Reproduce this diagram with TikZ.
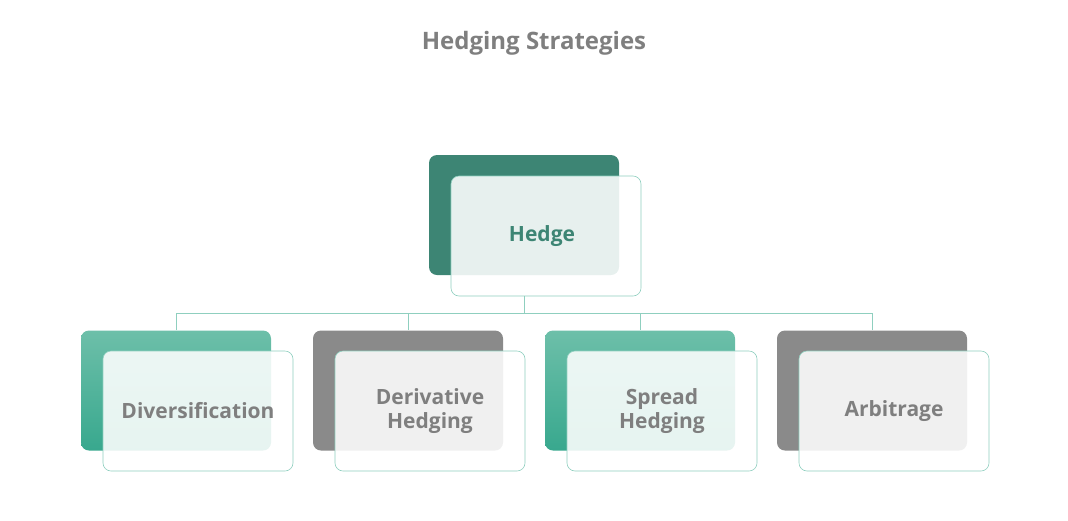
\documentclass[tikz,border=0pt]{standalone}
\usepackage{fontspec}
\setmainfont{Open Sans}
\usepackage{tikz}
\usetikzlibrary{positioning,calc}
\definecolor{tealdark}{HTML}{3D8574}
\definecolor{tealtop}{HTML}{6DBFA9}
\definecolor{tealbot}{HTML}{38A88E}
\definecolor{tealline}{HTML}{8FCFBF}
\definecolor{greyback}{HTML}{8A8A8A}
\definecolor{greytext}{HTML}{7F7F7F}

\tikzset{
  backbox/.style={rounded corners=8pt, minimum width=190pt, minimum height=120pt, inner sep=0pt},
  frontbox/.style={draw=tealline, line width=0.6pt, fill=white, fill opacity=0.88, text opacity=1,
    rounded corners=8pt, minimum width=190pt, minimum height=120pt, inner sep=0pt,
    font=\bfseries\fontsize{21}{24}\selectfont, text=greytext, align=center},
  link/.style={draw=tealline, line width=0.6pt}
}

\begin{document}
\begin{tikzpicture}[x=1pt, y=-1pt]
  \useasboundingbox (0,0) rectangle (1068,520);

  % title
  \node (title) at (534,43) {\bfseries\fontsize{24}{28}\selectfont\color{greytext}Hedging Strategies};

  % root
  \node[backbox, fill=tealdark] (hedgeback) at (524,215) {};
  \node[frontbox, text=tealdark] (hedge) at (546,236) {\hspace*{-8pt}Hedge};

  % children
  \foreach \name/\x/\label/\kind in {div/176/Diversification/t, der/408/Derivative\\Hedging/g, spr/640/Spread\\Hedging/t, arb/872/Arbitrage/g} {
    \if t\kind
      \node[backbox, top color=tealtop, bottom color=tealbot] (\name back) at (\x,390.5) {};
    \else
      \node[backbox, fill=greyback] (\name back) at (\x,390.5) {};
    \fi
    \node[frontbox] (\name) at (\x+22,411) {\label};
  }

  % connectors
  \coordinate (mid) at (524,313);
  \draw[link] (hedge.south -| mid) -- (mid);
  \draw[link] (divback.north |- mid) -- (arbback.north |- mid);
  \foreach \name in {div,der,spr,arb}
    \draw[link] (\name back.north |- mid) -- (\name back.north);
\end{tikzpicture}
\end{document}
